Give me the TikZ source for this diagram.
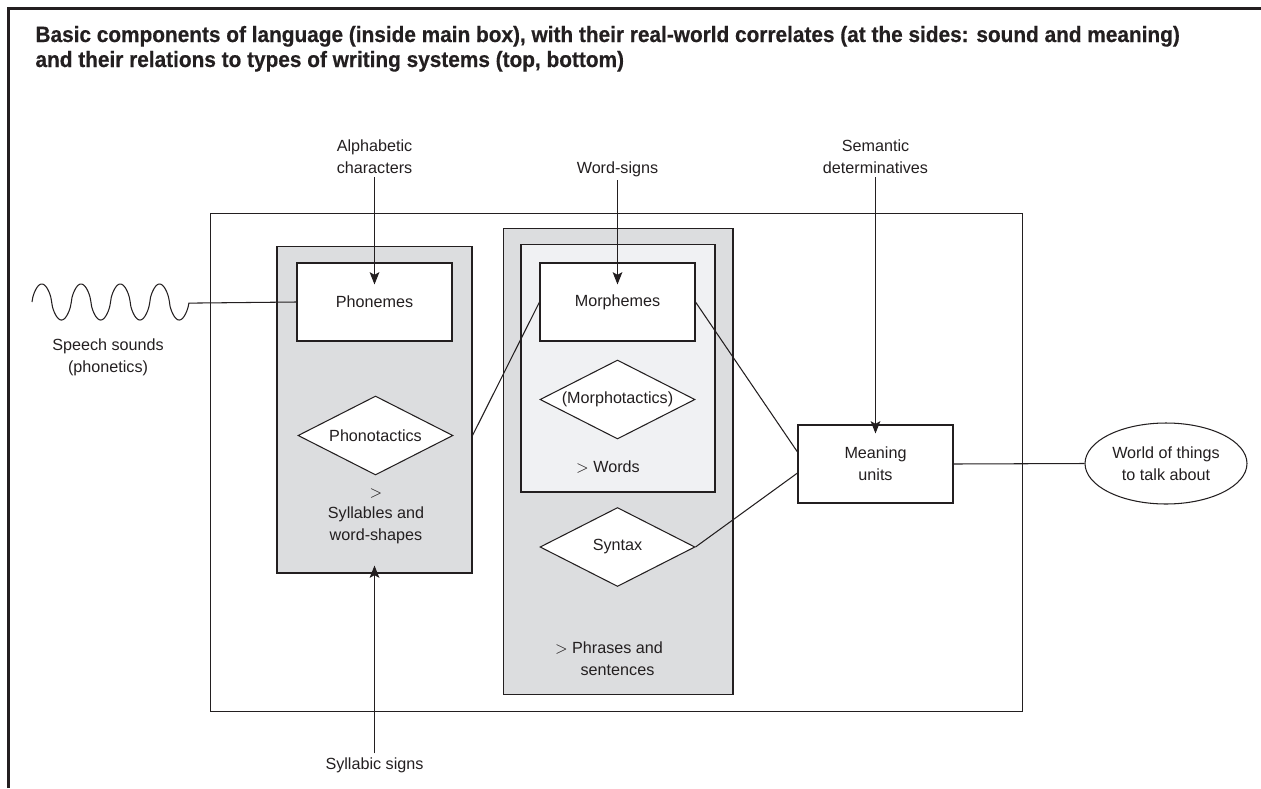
\documentclass[tikz,border=0pt]{standalone}
\usepackage{fontspec}
\setmainfont{Liberation Sans}
\newfontfamily\titlefont{Liberation Sans}[FakeStretch=0.94,FakeBold=0.5]
\usetikzlibrary{shapes.geometric,arrows.meta,calc}
\definecolor{ink}{RGB}{35,31,32}
\definecolor{boxgray}{RGB}{220,221,223}
\definecolor{boxlight}{RGB}{240,241,243}
\begin{document}
\begin{tikzpicture}[x=0.02cm,y=-0.02cm,
  font=\fontsize{9.2}{12.3}\selectfont, color=ink,
  line width=0.6pt,
  box/.style={draw, rectangle, inner sep=0pt},
  dia/.style={draw, diamond, aspect=2, inner sep=0pt, fill=white, minimum width=3.1cm, minimum height=1.58cm},
  lbl/.style={align=center, inner sep=2pt},
  titletext/.style={anchor=base west, inner sep=0pt, font={\titlefont\bfseries\fontsize{12.6}{14}\selectfont}},
  arr/.style={-{Stealth[length=7pt,width=5.5pt,inset=1.5pt]}}
]
\useasboundingbox (0,0) rectangle (1261,788);
% frame (top and left)
\draw[line width=1.2pt] (8.5,788) -- (8.5,8.5) -- (1261,8.5);
% title
\node[titletext] (title1) at (35,42) {Basic components of language (inside main box), with their real-world correlates (at the sides: sound and meaning)};
\node[titletext] (title2) at (35,67) {and their relations to types of writing systems (top, bottom)};

% main box
\node[box, minimum width=16.26cm, minimum height=9.98cm] (main) at (616.5,462.5) {};

% phonology column
\node[box, fill=boxgray, minimum width=3.9cm, minimum height=6.54cm] (phongray) at (374.5,409.5) {};
\node[box, fill=white, minimum width=3.1cm, minimum height=1.56cm] (phonemes) at (374.5,302) {Phonemes};
\node[dia] (phonotactics) at (375.5,435.5) {Phonotactics};
\node[lbl] (syllables) at (376,516) {$>$\\Syllables and\\word-shapes};

% morphology / syntax column
\node[box, fill=boxgray, minimum width=4.6cm, minimum height=9.34cm] (midgray) at (618,461.5) {};
\node[box, fill=boxlight, minimum width=3.88cm, minimum height=4.96cm] (inner) at (618,368) {};
\node[box, fill=white, minimum width=3.1cm, minimum height=1.56cm] (morphemes) at (617.5,302) {Morphemes};
\node[dia] (morphotactics) at (617.5,399.5) {(Morphotactics)};
\node[lbl, anchor=base] (words) at (608,472) {$>$ Words};
\node[dia] (syntax) at (617.5,547) {Syntax};
\node[lbl, anchor=base] (phrases) at (609,653) {$>$ Phrases and};
\node[lbl, anchor=base] (sentences) at (617.5,675) {sentences};

% meaning
\node[box, fill=white, minimum width=3.1cm, minimum height=1.56cm, align=center] (meaning) at (875.5,464) {Meaning\\units};
\node[draw, ellipse, fill=white, minimum width=3.24cm, minimum height=1.62cm, inner sep=0pt, align=center] (world) at (1166,463.5) {World of things\\to talk about};

% side and top/bottom labels
\node[lbl] (speech) at (108,357.5) {Speech sounds\\(phonetics)};
\node[lbl] (alpha) at (374.5,156.5) {Alphabetic\\characters};
\node[lbl, anchor=base] (wordsigns) at (617.5,173) {Word-signs};
\node[lbl] (sem) at (875.5,156.5) {Semantic\\determinatives};
\node[lbl, anchor=base] (syll) at (374.5,769) {Syllabic signs};

% speech wave
\coordinate (wavestart) at (32,302);
\draw plot[domain=0:4, samples=201] ({32+39.25*\x},{302-18*sin(360*\x)/(abs(sin(360*\x))+0.0001)^0.35}) -- (phonemes.west);

% connectors
\draw (phonotactics.east -| phongray.east) -- (morphemes.west);
\draw (morphemes.east) -- ($(meaning.west)+(0,-12)$);
\draw (syntax.east) -- ($(meaning.west)+(0,9)$);
\draw (meaning.east) -- (world.west);

% arrows
\draw[arr] (alpha.south) -- ($(phonemes.north)+(0,22)$);
\draw[arr] (wordsigns.south) -- ($(morphemes.north)+(0,22)$);
\draw[arr] (sem.south) -- ($(meaning.north)+(0,9)$);
\draw[arr] (syll.north) -- ($(phongray.south)+(0,-8)$);
\end{tikzpicture}
\end{document}
